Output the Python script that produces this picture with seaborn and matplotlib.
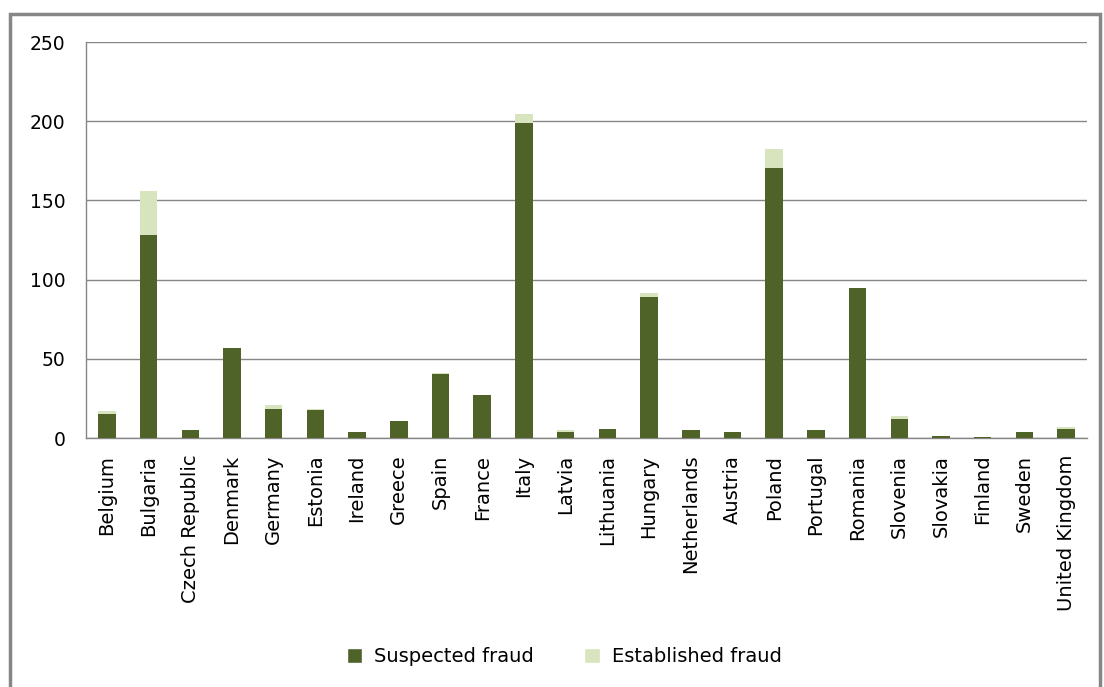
import numpy as np
import pandas as pd
import matplotlib
matplotlib.use("Agg")
import matplotlib.pyplot as plt
from matplotlib.patches import Rectangle, Patch
import seaborn as sns

countries = ["Belgium", "Bulgaria", "Czech Republic", "Denmark", "Germany", "Estonia",
             "Ireland", "Greece", "Spain", "France", "Italy", "Latvia", "Lithuania",
             "Hungary", "Netherlands", "Austria", "Poland", "Portugal", "Romania",
             "Slovenia", "Slovakia", "Finland", "Sweden", "United Kingdom"]
suspected = [15.4, 128, 5.2, 57, 18.6, 17.8, 4, 11, 40.2, 27, 199, 4, 5.9,
             89, 5.2, 4, 170.5, 5.2, 95, 12.1, 1.5, 0.8, 4, 5.9]
established = [1.9, 28, 0, 0, 2.5, 0.7, 0, 0, 1.1, 0, 5.8, 1.3, 0,
               2.6, 0, 0, 12, 0, 0, 2, 0, 0, 0, 1.3]
y_ticks = [0, 50, 100, 150, 200, 250]

dark = "#4F6228"
light = "#D7E4BD"
grid_col = "#868686"

df = pd.DataFrame({"country": countries, "suspected": suspected, "established": established})
df["total"] = df["suspected"] + df["established"]

sns.set_style("white")
plt.rcParams["font.family"] = ["DejaVu Sans"]

fig = plt.figure(figsize=(11.04, 6.87), dpi=100)
ax = fig.add_axes([86 / 1104, 1 - 438 / 687, (1087 - 86) / 1104, (438 - 42) / 687])

# light bar = total, dark bar drawn over it = suspected
sns.barplot(data=df, x="country", y="total", color=light, width=0.42,
            saturation=1, linewidth=0, ax=ax, zorder=3)
sns.barplot(data=df, x="country", y="suspected", color=dark, width=0.42,
            saturation=1, linewidth=0, ax=ax, zorder=3)

ax.set_ylim(0, 250)
ax.set_xlim(-0.5, len(countries) - 0.5)
ax.set_yticks(y_ticks)
ax.set_yticklabels([str(v) for v in y_ticks], fontsize=13.5, color="black")
ax.yaxis.grid(True, color=grid_col, linewidth=1)
ax.set_axisbelow(True)
ax.set_xlabel("")
ax.set_ylabel("")

ax.set_xticks(range(len(countries)))
ax.set_xticklabels(countries, rotation=90, fontsize=14, color="black")
ax.set_xticks(np.arange(-0.5, len(countries), 1), minor=True)
ax.tick_params(axis="x", which="major", length=0, pad=12)
ax.tick_params(axis="x", which="minor", length=8, color=grid_col, width=1, direction="out")
ax.tick_params(axis="y", length=7, color=grid_col, width=1, direction="out", pad=8)

for side in ["top", "right"]:
    ax.spines[side].set_visible(False)
for side in ["left", "bottom"]:
    ax.spines[side].set_color(grid_col)
    ax.spines[side].set_linewidth(1)

handles = [Patch(facecolor=dark, label="Suspected fraud"),
           Patch(facecolor=light, label="Established fraud")]
leg = fig.legend(handles=handles, loc="center", bbox_to_anchor=(0.511, 1 - 657 / 687),
                 ncol=2, frameon=False, fontsize=14, handlelength=0.8, handleheight=0.8,
                 columnspacing=2.6, handletextpad=0.6)
for t in leg.get_texts():
    t.set_color("black")

fig.patches.append(Rectangle((10 / 1104, -0.01), (1100 - 10) / 1104, 1 - 14 / 687 + 0.01,
                             transform=fig.transFigure, fill=False,
                             edgecolor=grid_col, linewidth=2.5))

fig.savefig("out.png", dpi=100)
